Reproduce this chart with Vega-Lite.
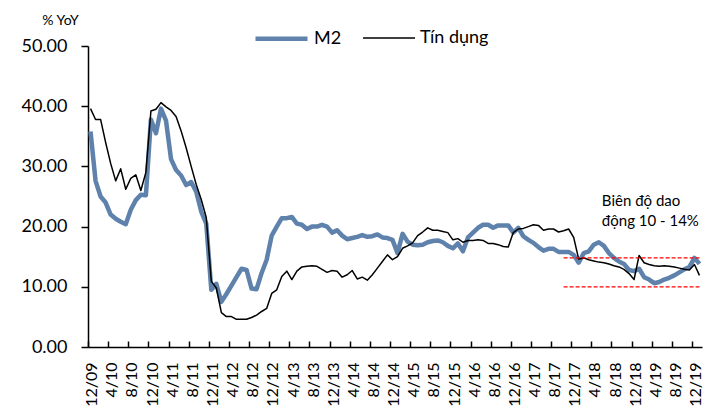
{
 "$schema": "https://vega.github.io/schema/vega-lite/v6.json",
 "width": 614,
 "height": 301,
 "autosize": {"type": "none"},
 "padding": {"left": 88, "top": 46, "right": 5, "bottom": 62},
 "background": "white",
 "config": {
  "view": {"stroke": null},
  "font": "Lato",
  "axis": {"grid": false, "domainColor": "#000", "tickColor": "#000", "labelColor": "#000", "labelFont": "Lato", "titleFont": "Lato"}
 },
 "layer": [
  {
   "data": {"values": [
    {"m":"12/09","M2":35.8,"Tín dụng":39.6},
    {"m":"1/10","M2":27.6,"Tín dụng":37.8},
    {"m":"2/10","M2":25.0,"Tín dụng":37.8},
    {"m":"3/10","M2":24.0,"Tín dụng":34.0},
    {"m":"4/10","M2":22.0,"Tín dụng":30.5},
    {"m":"5/10","M2":21.3,"Tín dụng":27.6},
    {"m":"6/10","M2":20.8,"Tín dụng":29.6},
    {"m":"7/10","M2":20.4,"Tín dụng":26.2},
    {"m":"8/10","M2":22.8,"Tín dụng":28.0},
    {"m":"9/10","M2":24.4,"Tín dụng":28.6},
    {"m":"10/10","M2":25.3,"Tín dụng":26.0},
    {"m":"11/10","M2":25.2,"Tín dụng":29.0},
    {"m":"12/10","M2":37.8,"Tín dụng":39.2},
    {"m":"1/11","M2":35.5,"Tín dụng":39.5},
    {"m":"2/11","M2":39.6,"Tín dụng":40.6},
    {"m":"3/11","M2":37.6,"Tín dụng":39.9},
    {"m":"4/11","M2":31.2,"Tín dụng":39.3},
    {"m":"5/11","M2":29.4,"Tín dụng":38.3},
    {"m":"6/11","M2":28.5,"Tín dụng":35.9},
    {"m":"7/11","M2":26.9,"Tín dụng":33.1},
    {"m":"8/11","M2":27.4,"Tín dụng":30.0},
    {"m":"9/11","M2":25.8,"Tín dụng":27.0},
    {"m":"10/11","M2":22.5,"Tín dụng":24.5},
    {"m":"11/11","M2":20.5,"Tín dụng":21.5},
    {"m":"12/11","M2":9.5,"Tín dụng":10.9},
    {"m":"1/12","M2":10.5,"Tín dụng":9.8},
    {"m":"2/12","M2":7.5,"Tín dụng":5.7},
    {"m":"3/12","M2":8.8,"Tín dụng":5.05},
    {"m":"4/12","M2":10.2,"Tín dụng":5.05},
    {"m":"5/12","M2":11.6,"Tín dụng":4.6},
    {"m":"6/12","M2":13.0,"Tín dụng":4.6},
    {"m":"7/12","M2":12.8,"Tín dụng":4.6},
    {"m":"8/12","M2":9.7,"Tín dụng":4.9},
    {"m":"9/12","M2":9.6,"Tín dụng":5.3},
    {"m":"10/12","M2":12.3,"Tín dụng":5.9},
    {"m":"11/12","M2":14.5,"Tín dụng":6.4},
    {"m":"12/12","M2":18.5,"Tín dụng":8.9},
    {"m":"1/13","M2":20.0,"Tín dụng":9.5},
    {"m":"2/13","M2":21.4,"Tín dụng":11.7},
    {"m":"3/13","M2":21.4,"Tín dụng":12.6},
    {"m":"4/13","M2":21.6,"Tín dụng":11.2},
    {"m":"5/13","M2":20.5,"Tín dụng":12.6},
    {"m":"6/13","M2":20.3,"Tín dụng":13.3},
    {"m":"7/13","M2":19.6,"Tín dụng":13.4},
    {"m":"8/13","M2":20.0,"Tín dụng":13.5},
    {"m":"9/13","M2":20.0,"Tín dụng":13.4},
    {"m":"10/13","M2":20.3,"Tín dụng":12.9},
    {"m":"11/13","M2":20.0,"Tín dụng":12.4},
    {"m":"12/13","M2":19.0,"Tín dụng":12.7},
    {"m":"1/14","M2":19.4,"Tín dụng":12.6},
    {"m":"2/14","M2":18.5,"Tín dụng":11.6},
    {"m":"3/14","M2":17.9,"Tín dụng":12.0},
    {"m":"4/14","M2":18.1,"Tín dụng":12.7},
    {"m":"5/14","M2":18.3,"Tín dụng":11.3},
    {"m":"6/14","M2":18.6,"Tín dụng":11.6},
    {"m":"7/14","M2":18.3,"Tín dụng":11.1},
    {"m":"8/14","M2":18.4,"Tín dụng":12.0},
    {"m":"9/14","M2":18.7,"Tín dụng":13.1},
    {"m":"10/14","M2":18.2,"Tín dụng":14.2},
    {"m":"11/14","M2":18.1,"Tín dụng":15.3},
    {"m":"12/14","M2":17.8,"Tín dụng":14.5},
    {"m":"1/15","M2":15.6,"Tín dụng":15.0},
    {"m":"2/15","M2":18.8,"Tín dụng":16.4},
    {"m":"3/15","M2":17.5,"Tín dụng":16.8},
    {"m":"4/15","M2":17.0,"Tín dụng":17.3},
    {"m":"5/15","M2":16.9,"Tín dụng":18.5},
    {"m":"6/15","M2":17.0,"Tín dụng":19.1},
    {"m":"7/15","M2":17.4,"Tín dụng":19.8},
    {"m":"8/15","M2":17.6,"Tín dụng":19.4},
    {"m":"9/15","M2":17.7,"Tín dụng":19.4},
    {"m":"10/15","M2":17.4,"Tín dụng":19.2},
    {"m":"11/15","M2":16.8,"Tín dụng":19.0},
    {"m":"12/15","M2":16.4,"Tín dụng":17.8},
    {"m":"1/16","M2":17.2,"Tín dụng":18.0},
    {"m":"2/16","M2":15.9,"Tín dụng":17.4},
    {"m":"3/16","M2":18.2,"Tín dụng":17.7},
    {"m":"4/16","M2":19.0,"Tín dụng":17.7},
    {"m":"5/16","M2":19.8,"Tín dụng":17.8},
    {"m":"6/16","M2":20.3,"Tín dụng":17.7},
    {"m":"7/16","M2":20.3,"Tín dụng":17.2},
    {"m":"8/16","M2":19.8,"Tín dụng":17.2},
    {"m":"9/16","M2":20.2,"Tín dụng":17.0},
    {"m":"10/16","M2":20.2,"Tín dụng":16.7},
    {"m":"11/16","M2":20.2,"Tín dụng":16.6},
    {"m":"12/16","M2":19.0,"Tín dụng":19.0},
    {"m":"1/17","M2":19.8,"Tín dụng":19.6},
    {"m":"2/17","M2":18.4,"Tín dụng":19.7},
    {"m":"3/17","M2":17.8,"Tín dụng":20.0},
    {"m":"4/17","M2":17.3,"Tín dụng":20.3},
    {"m":"5/17","M2":16.6,"Tín dụng":20.2},
    {"m":"6/17","M2":16.0,"Tín dụng":19.4},
    {"m":"7/17","M2":16.3,"Tín dụng":19.6},
    {"m":"8/17","M2":16.3,"Tín dụng":19.6},
    {"m":"9/17","M2":15.8,"Tín dụng":19.1},
    {"m":"10/17","M2":15.8,"Tín dụng":19.3},
    {"m":"11/17","M2":15.8,"Tín dụng":19.6},
    {"m":"12/17","M2":15.3,"Tín dụng":18.2},
    {"m":"1/18","M2":14.0,"Tín dụng":14.6},
    {"m":"2/18","M2":15.6,"Tín dụng":14.8},
    {"m":"3/18","M2":15.9,"Tín dụng":14.5},
    {"m":"4/18","M2":17.0,"Tín dụng":14.3},
    {"m":"5/18","M2":17.4,"Tín dụng":14.1},
    {"m":"6/18","M2":16.8,"Tín dụng":14.0},
    {"m":"7/18","M2":15.6,"Tín dụng":13.8},
    {"m":"8/18","M2":14.8,"Tín dụng":13.5},
    {"m":"9/18","M2":14.2,"Tín dụng":13.3},
    {"m":"10/18","M2":13.8,"Tín dụng":12.9},
    {"m":"11/18","M2":12.8,"Tín dụng":12.2},
    {"m":"12/18","M2":12.6,"Tín dụng":11.2},
    {"m":"1/19","M2":13.0,"Tín dụng":15.2},
    {"m":"2/19","M2":11.6,"Tín dụng":14.0},
    {"m":"3/19","M2":11.2,"Tín dụng":13.7},
    {"m":"4/19","M2":10.6,"Tín dụng":13.5},
    {"m":"5/19","M2":10.8,"Tín dụng":13.4},
    {"m":"6/19","M2":11.2,"Tín dụng":13.5},
    {"m":"7/19","M2":11.5,"Tín dụng":13.4},
    {"m":"8/19","M2":11.9,"Tín dụng":13.3},
    {"m":"9/19","M2":12.4,"Tín dụng":13.1},
    {"m":"10/19","M2":12.9,"Tín dụng":12.9},
    {"m":"11/19","M2":13.3,"Tín dụng":12.8},
    {"m":"12/19","M2":14.8,"Tín dụng":13.7},
    {"m":"1/20","M2":13.8,"Tín dụng":11.9}
   ]},
   "transform": [{"fold": ["M2", "Tín dụng"], "as": ["series", "value"]}],
   "mark": {"type": "line", "strokeJoin": "round"},
   "encoding": {
    "x": {
     "field": "m", "type": "ordinal", "title": null, "sort": null,
     "scale": {"type": "point", "padding": 0.5, "domain": ["12/09","1/10","2/10","3/10","4/10","5/10","6/10","7/10","8/10","9/10","10/10","11/10","12/10","1/11","2/11","3/11","4/11","5/11","6/11","7/11","8/11","9/11","10/11","11/11","12/11","1/12","2/12","3/12","4/12","5/12","6/12","7/12","8/12","9/12","10/12","11/12","12/12","1/13","2/13","3/13","4/13","5/13","6/13","7/13","8/13","9/13","10/13","11/13","12/13","1/14","2/14","3/14","4/14","5/14","6/14","7/14","8/14","9/14","10/14","11/14","12/14","1/15","2/15","3/15","4/15","5/15","6/15","7/15","8/15","9/15","10/15","11/15","12/15","1/16","2/16","3/16","4/16","5/16","6/16","7/16","8/16","9/16","10/16","11/16","12/16","1/17","2/17","3/17","4/17","5/17","6/17","7/17","8/17","9/17","10/17","11/17","12/17","1/18","2/18","3/18","4/18","5/18","6/18","7/18","8/18","9/18","10/18","11/18","12/18","1/19","2/19","3/19","4/19","5/19","6/19","7/19","8/19","9/19","10/19","11/19","12/19","1/20"]},
     "axis": {
      "title": null,
      "labelAngle": 270,
      "labelFontSize": 16,
      "labelOverlap": false,
      "tickSize": -6,
      "tickWidth": 1.5,
      "tickOffset": -2.5,
      "labelOffset": 3.7,
      "domainWidth": 1.5,
      "labelPadding": 21,
      "values": ["12/09","4/10","8/10","12/10","4/11","8/11","12/11","4/12","8/12","12/12","4/13","8/13","12/13","4/14","8/14","12/14","4/15","8/15","12/15","4/16","8/16","12/16","4/17","8/17","12/17","4/18","8/18","12/18","4/19","8/19","12/19"]
     }
    },
    "y": {
     "field": "value", "type": "quantitative", "title": "% YoY",
     "scale": {"domain": [0, 50], "nice": false},
     "axis": {
      "title": "% YoY",
      "titleAngle": 0,
      "titleX": -28,
      "titleY": -26,
      "titleAlign": "center",
      "titleBaseline": "middle",
      "titleFontSize": 14,
      "titleFontWeight": "normal",
      "titleColor": "#000",
      "values": [0, 10, 20, 30, 40, 50],
      "format": ".2f",
      "labelFontSize": 18,
      "tickSize": 7,
      "tickWidth": 1.5,
      "domainWidth": 1.5,
      "labelPadding": 14
     }
    },
    "color": {
     "field": "series", "type": "nominal",
     "scale": {"domain": ["M2", "Tín dụng"], "range": ["#5F82AC", "#000000"]},
     "legend": {"orient": "none", "legendX": 165, "legendY": -36, "direction": "horizontal", "title": null, "symbolType": "stroke", "symbolSize": 2704, "labelFont": "Lato", "labelFontSize": 18, "labelColor": "#000", "columnPadding": 18, "labelOffset": 4}
    },
    "strokeWidth": {
     "field": "series", "type": "nominal",
     "scale": {"domain": ["M2", "Tín dụng"], "range": [4.5, 1.5]},
     "legend": {"orient": "none", "legendX": 165, "legendY": -36, "direction": "horizontal", "title": null, "symbolType": "stroke", "symbolSize": 2704, "labelFont": "Lato", "labelFontSize": 18, "labelColor": "#000", "columnPadding": 18, "labelOffset": 4}
    }
   }
  },
  {
   "data": {"values": [
    {"x1": "10/17", "x2": "1/20", "y": 14.8},
    {"x1": "10/17", "x2": "1/20", "y": 10}
   ]},
   "mark": {"type": "rule", "color": "#FF0000", "strokeDash": [4, 2], "strokeWidth": 1.2},
   "encoding": {
    "x": {"field": "x1", "type": "ordinal", "title": null, "sort": null},
    "x2": {"field": "x2"},
    "y": {"field": "y", "type": "quantitative", "title": "% YoY"}
   }
  },
  {
   "data": {"values": [
    {"m": "6/18", "y": 24.2, "t": "Biên độ dao"},
    {"m": "6/18", "y": 20.9, "t": "động 10 - 14%"}
   ]},
   "mark": {"type": "text", "align": "left", "baseline": "middle", "dx": -2, "font": "Lato", "fontSize": 15, "color": "#000"},
   "encoding": {
    "x": {"field": "m", "type": "ordinal", "title": null, "sort": null},
    "y": {"field": "y", "type": "quantitative", "title": "% YoY"},
    "text": {"field": "t"}
   }
  }
 ]
}
